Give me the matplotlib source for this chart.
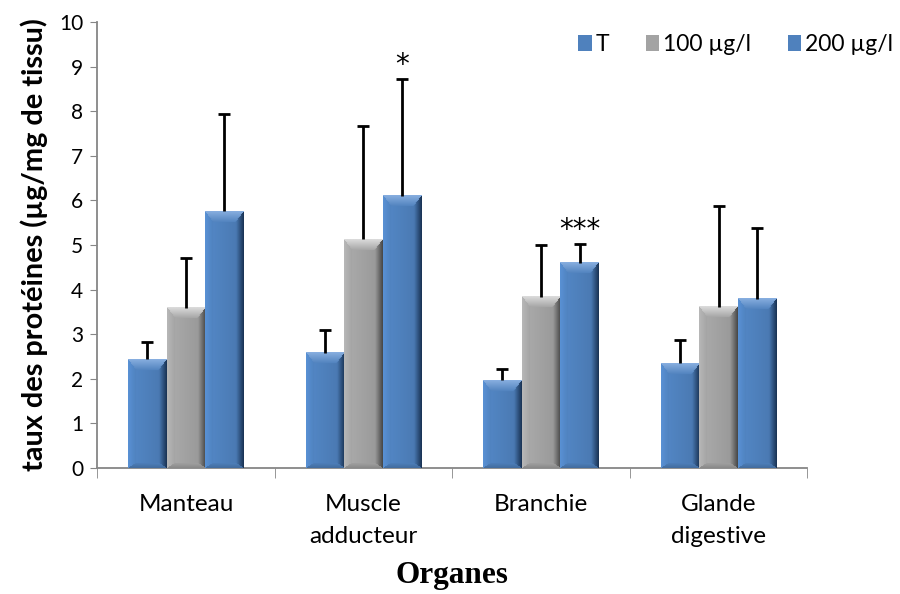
import numpy as np
import matplotlib.pyplot as plt
from matplotlib.colors import to_rgb
from matplotlib.patches import Rectangle
from matplotlib.legend_handler import HandlerPatch

# donnees
organes = ["Manteau", "Muscle\nadducteur", "Branchie", "Glande\ndigestive"]
series = ["T", "100 µg/l", "200 µg/l"]
moy_T = [2.44, 2.58, 1.97, 2.35]
moy_100 = [3.59, 5.13, 3.84, 3.62]
moy_200 = [5.76, 6.10, 4.60, 3.80]
sd_T = [0.38, 0.51, 0.24, 0.53]
sd_100 = [1.12, 2.54, 1.16, 2.25]
sd_200 = [2.18, 2.62, 0.42, 1.58]
signif_200 = ["", "*", "***", ""]

bleu = ("#4F81BD", "#86ADDF", "#1B3557")
gris = ("#A3A3A3", "#DADADA", "#4A4A4A")
couleurs = [bleu, gris, bleu]

plt.rcParams['font.family'] = ['Lato', 'DejaVu Sans']

fig = plt.figure(figsize=(9, 5.94), dpi=100)
ax = fig.add_axes([0.108, 0.212, 0.789, 0.751])

x = np.arange(len(organes))
w = 0.217
ppu = 44.6  # pixels par unite (y)


def biseau(nw, nh, c, b=8, bt=11):
    base, clair, fonce = [np.array(to_rgb(k)) for k in c]
    img = np.zeros((nh, nw, 3))
    for i in range(nh):
        for j in range(nw):
            dl, dr, dt, db = j / b, (nw - 1 - j) / b, i / bt, (nh - 1 - i) / 5
            m = min(dl, dr, dt, db)
            if m >= 1:
                t = j / max(nw - 1, 1)
                col = base * (1.06 - 0.14 * t)
            else:
                f = m
                if m == dt:
                    col = clair * (1 - f) + base * f
                elif m == dr:
                    col = fonce * (1 - f) + base * f
                elif m == dl:
                    col = (base * 1.12) * (1 - f) + base * f
                else:
                    col = (base * 0.85) * (1 - f) + base * f
            img[i, j] = np.clip(col, 0, 1)
    return img


groupes = [(moy_T, sd_T), (moy_100, sd_100), (moy_200, sd_200)]
for k, (moy, sd) in enumerate(groupes):
    pos = x + (k - 1) * w
    bars = ax.bar(pos, moy, w, color=couleurs[k][0], label=series[k], zorder=2)
    for p in bars:
        nh = max(int(p.get_height() * ppu), 2)
        img = biseau(38, nh, couleurs[k])
        ax.imshow(img, extent=(p.get_x(), p.get_x() + p.get_width(), 0, p.get_height()),
                  aspect='auto', zorder=3, interpolation='bilinear')
    eb = ax.errorbar(pos, moy, yerr=[np.zeros(len(sd)), sd], fmt='none', ecolor='black',
                     elinewidth=2, capsize=4.5, capthick=2, zorder=4)
    for cl in eb.lines[1]:
        if np.allclose(cl.get_ydata(), moy):
            cl.set_visible(False)

for i, s in enumerate(signif_200):
    if s:
        ax.text(x[i] + w, moy_200[i] + sd_200[i] + 0.32, s, ha='center', va='center',
                fontsize=20, family='DejaVu Sans')

ax.set_xlim(-0.5, 3.5)
ax.set_ylim(0, 10)
ax.set_yticks(range(0, 11))
ax.set_xticks(x)
ax.set_xticklabels(organes, fontsize=17.5, linespacing=1.6)
ax.set_xticks(np.arange(-0.5, 4, 1), minor=True)
ax.tick_params(axis='x', which='major', length=0, pad=19)
ax.tick_params(axis='x', which='minor', length=7, color='#868686', direction='out')
ax.tick_params(axis='y', length=5, color='#868686', labelsize=15, pad=5)
for s in ['top', 'right']:
    ax.spines[s].set_visible(False)
for s in ['left', 'bottom']:
    ax.spines[s].set_color('#868686')
    ax.spines[s].set_linewidth(1.3)

ax.set_ylabel("taux des protéines (µg/mg de tissu)", fontsize=20.8, fontweight='bold', labelpad=8)
ax.set_xlabel("Organes", fontsize=22.5, fontweight='bold', family='Liberation Serif', labelpad=10)


class Carre(HandlerPatch):
    def create_artists(self, legend, orig, xd, yd, width, height, fontsize, trans):
        r = Rectangle((xd + width - height * 1.1, yd - 1), height * 1.1, height * 1.1,
                      facecolor=orig.get_facecolor(), edgecolor='#2E4E78', linewidth=0.6,
                      transform=trans)
        return [r]


handles, labels = ax.get_legend_handles_labels()
ax.legend(handles, labels, loc='upper right', bbox_to_anchor=(0.997, 0.95),
          bbox_transform=fig.transFigure, borderaxespad=0, borderpad=0.2, ncol=3,
          frameon=False, fontsize=16.5, handler_map={Rectangle: Carre()}, handlelength=0.6,
          handletextpad=0.15, columnspacing=1.6)

plt.savefig("out.png", dpi=100)
